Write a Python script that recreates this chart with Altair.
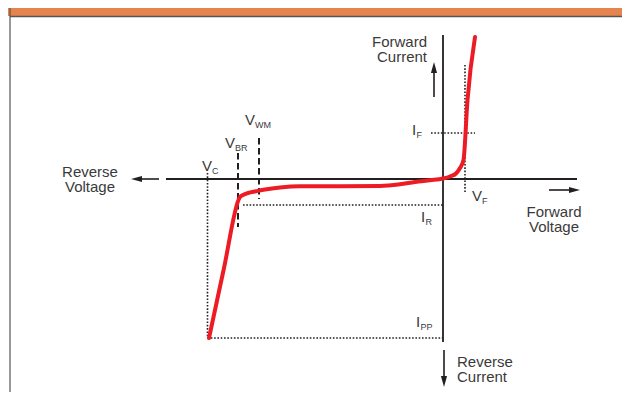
import altair as alt
import numpy as np
import pandas as pd

# ---------------- data (diagram units: voltage along x, current along y; origin at 0,0) ----------------
curve_v = [-23.4, -21.9, -20.45, -20.3, -20.0, -19.5, -18.7, -17.8, -16.3, -14.3, -10.3, -6.3,
           -4.3, -2.8, -1.3, 0.0, 0.7, 1.3, 1.7, 2.05, 2.45, 3.2]
curve_i = [-15.9, -8.9, -2.1, -1.8, -1.6, -1.4, -1.23, -1.05, -0.85, -0.73, -0.72, -0.7,
           -0.53, -0.3, -0.12, 0.05, 0.25, 0.55, 1.1, 1.9, 7.9, 14.2]

axis_name = ["Voltage axis", "Current axis"]
axis_v_start = [-27.7, 0.0]
axis_i_start = [0.0, 14.4]
axis_v_end = [13.4, 0.0]
axis_i_end = [0.0, -16.3]

arrow_name = ["Reverse Voltage", "Forward Voltage", "Forward Current", "Reverse Current"]
arrow_v_tail = [-28.4, 10.6, -0.9, 0.1]
arrow_i_tail = [0.0, -1.1, 8.2, -17.1]
arrow_v_tip = [-31.2, 13.7, -0.9, 0.1]
arrow_i_tip = [0.0, -1.1, 11.7, -20.8]

guide_name = ["V_C", "I_PP", "I_R", "I_F", "V_F", "V_BR", "V_WM"]
guide_style = ["dotted", "dotted", "dotted", "dotted", "dotted", "dashed", "dashed"]
guide_v_start = [-23.55, -23.55, -20.0, -1.2, 2.2, -20.5, -18.4]
guide_i_start = [0.6, -15.9, -2.6, 4.6, 11.4, 2.6, 4.1]
guide_v_end = [-23.55, 0.0, 0.0, 3.2, 2.2, -20.5, -18.4]
guide_i_end = [-15.9, -15.9, -2.6, 4.6, -1.4, -4.8, -2.0]

symbol_main = ["V", "V", "V", "V", "I", "I", "I"]
symbol_sub = ["C", "BR", "WM", "F", "F", "R", "PP"]
symbol_v = [-24.1, -21.8, -19.8, 2.9, -3.1, -2.2, -2.7]
symbol_i = [0.8, 3.1, 5.4, -2.2, 4.4, -4.3, -14.8]

caption_text = ["Reverse\nVoltage", "Forward\nCurrent", "Forward\nVoltage", "Reverse\nCurrent"]
caption_anchor = ["center", "right", "center", "left"]
caption_v = [-35.3, -1.6, 11.1, 1.4]
caption_i = [0.2, 13.2, -3.8, -18.8]

# ---------------- styles ----------------
RED = "#ED1C24"
INK = "#231F20"
TXT = "#3a3a3a"
ORANGE = "#E5844F"
FRAME = "#555555"
FONT = "Liberation Sans"

W, H = 614, 384
XS = alt.Scale(domain=[-43.5, 17.9], nice=False, zero=False)
YS = alt.Scale(domain=[-21.3, 17.1], nice=False, zero=False)

# ---------------- tables ----------------
curve_df = pd.DataFrame({"v": curve_v, "i": curve_i, "k": range(len(curve_v))})
axis_df = pd.DataFrame({"name": axis_name, "v1": axis_v_start, "i1": axis_i_start,
                        "v2": axis_v_end, "i2": axis_i_end})

tv, ti = np.array(arrow_v_tail), np.array(arrow_i_tail)
pv, pi = np.array(arrow_v_tip), np.array(arrow_i_tip)
dv, di = pv - tv, pi - ti
ln = np.hypot(dv, di)
arrow_df = pd.DataFrame({
    "name": arrow_name,
    "v1": tv, "i1": ti,
    "v2": pv - 0.6 * dv / ln, "i2": pi - 0.6 * di / ln,
    "vt": pv, "it": pi,
    "angle": np.mod(np.degrees(np.arctan2(dv, di)), 360),
})

guide_df = pd.DataFrame({"name": guide_name, "style": guide_style,
                         "v1": guide_v_start, "i1": guide_i_start,
                         "v2": guide_v_end, "i2": guide_i_end})

sym_df = pd.DataFrame({"main": symbol_main, "sub": symbol_sub, "v": symbol_v, "i": symbol_i})
sym_df["sv"] = sym_df["v"] + np.where(sym_df["main"] == "V", 1.0, 0.45)
sym_df["si"] = sym_df["i"] - 0.25

cap_df = pd.DataFrame({"text": caption_text, "anchor": caption_anchor, "v": caption_v, "i": caption_i})

one = pd.DataFrame({"z": [0]})

# ---------------- layers ----------------
def seg(df, **kw):
    return alt.Chart(df).mark_rule(**kw).encode(
        x=alt.X("v1:Q", scale=XS, axis=None), x2="v2:Q",
        y=alt.Y("i1:Q", scale=YS, axis=None), y2="i2:Q")

header = alt.Chart(one).mark_rect(color=ORANGE).encode(
    x=alt.value(0), x2=alt.value(W), y=alt.value(0), y2=alt.value(8))
header_line = alt.Chart(one).mark_rule(color=FRAME, strokeWidth=1.5).encode(
    x=alt.value(2), x2=alt.value(W), y=alt.value(8.5))
left_line = alt.Chart(one).mark_rule(color=FRAME, strokeWidth=1.2).encode(
    x=alt.value(2), y=alt.value(0), y2=alt.value(H))

axes = seg(axis_df, color=INK, strokeWidth=1.8)
arrows = seg(arrow_df, color=INK, strokeWidth=1.6)
heads = alt.Chart(arrow_df).mark_point(
    shape="M0,0L0.5,1.8L-0.5,1.8Z", size=150, filled=True, color=INK, opacity=1, strokeWidth=0
).encode(
    x=alt.X("vt:Q", scale=XS, axis=None), y=alt.Y("it:Q", scale=YS, axis=None),
    angle=alt.Angle("angle:Q", scale=None))

dotted = seg(guide_df[guide_df["style"] == "dotted"], color=INK, strokeWidth=1.6, strokeDash=[1.6, 1.7])
dashed = seg(guide_df[guide_df["style"] == "dashed"], color=INK, strokeWidth=2, strokeDash=[6.5, 3.5])

curve = alt.Chart(curve_df).mark_line(
    color=RED, strokeWidth=4, strokeCap="round", strokeJoin="round", interpolate="monotone"
).encode(x=alt.X("v:Q", scale=XS, axis=None), y=alt.Y("i:Q", scale=YS, axis=None), order="k:O")

sym_main = alt.Chart(sym_df).mark_text(
    align="left", baseline="alphabetic", font=FONT, fontSize=15, color=TXT
).encode(x=alt.X("v:Q", scale=XS, axis=None), y=alt.Y("i:Q", scale=YS, axis=None), text="main:N")
sym_sub = alt.Chart(sym_df).mark_text(
    align="left", baseline="alphabetic", font=FONT, fontSize=9, color=TXT
).encode(x=alt.X("sv:Q", scale=XS, axis=None), y=alt.Y("si:Q", scale=YS, axis=None), text="sub:N")

cap_layers = []
for a in ["center", "right", "left"]:
    cap_layers.append(
        alt.Chart(cap_df[cap_df["anchor"] == a]).mark_text(
            align=a, baseline="alphabetic", font=FONT, fontSize=15, color=TXT,
            lineBreak="\n", lineHeight=15
        ).encode(x=alt.X("v:Q", scale=XS, axis=None), y=alt.Y("i:Q", scale=YS, axis=None), text="text:N"))

chart = alt.layer(
    header, header_line, left_line, axes, arrows, heads, dotted, dashed, curve, sym_main, sym_sub, *cap_layers
).properties(
    width=W, height=H, padding=0, autosize=alt.AutoSizeParams(type="none")
).configure_view(stroke=None)

chart.save("out.html", embed_options={"renderer": "svg", "actions": False})
